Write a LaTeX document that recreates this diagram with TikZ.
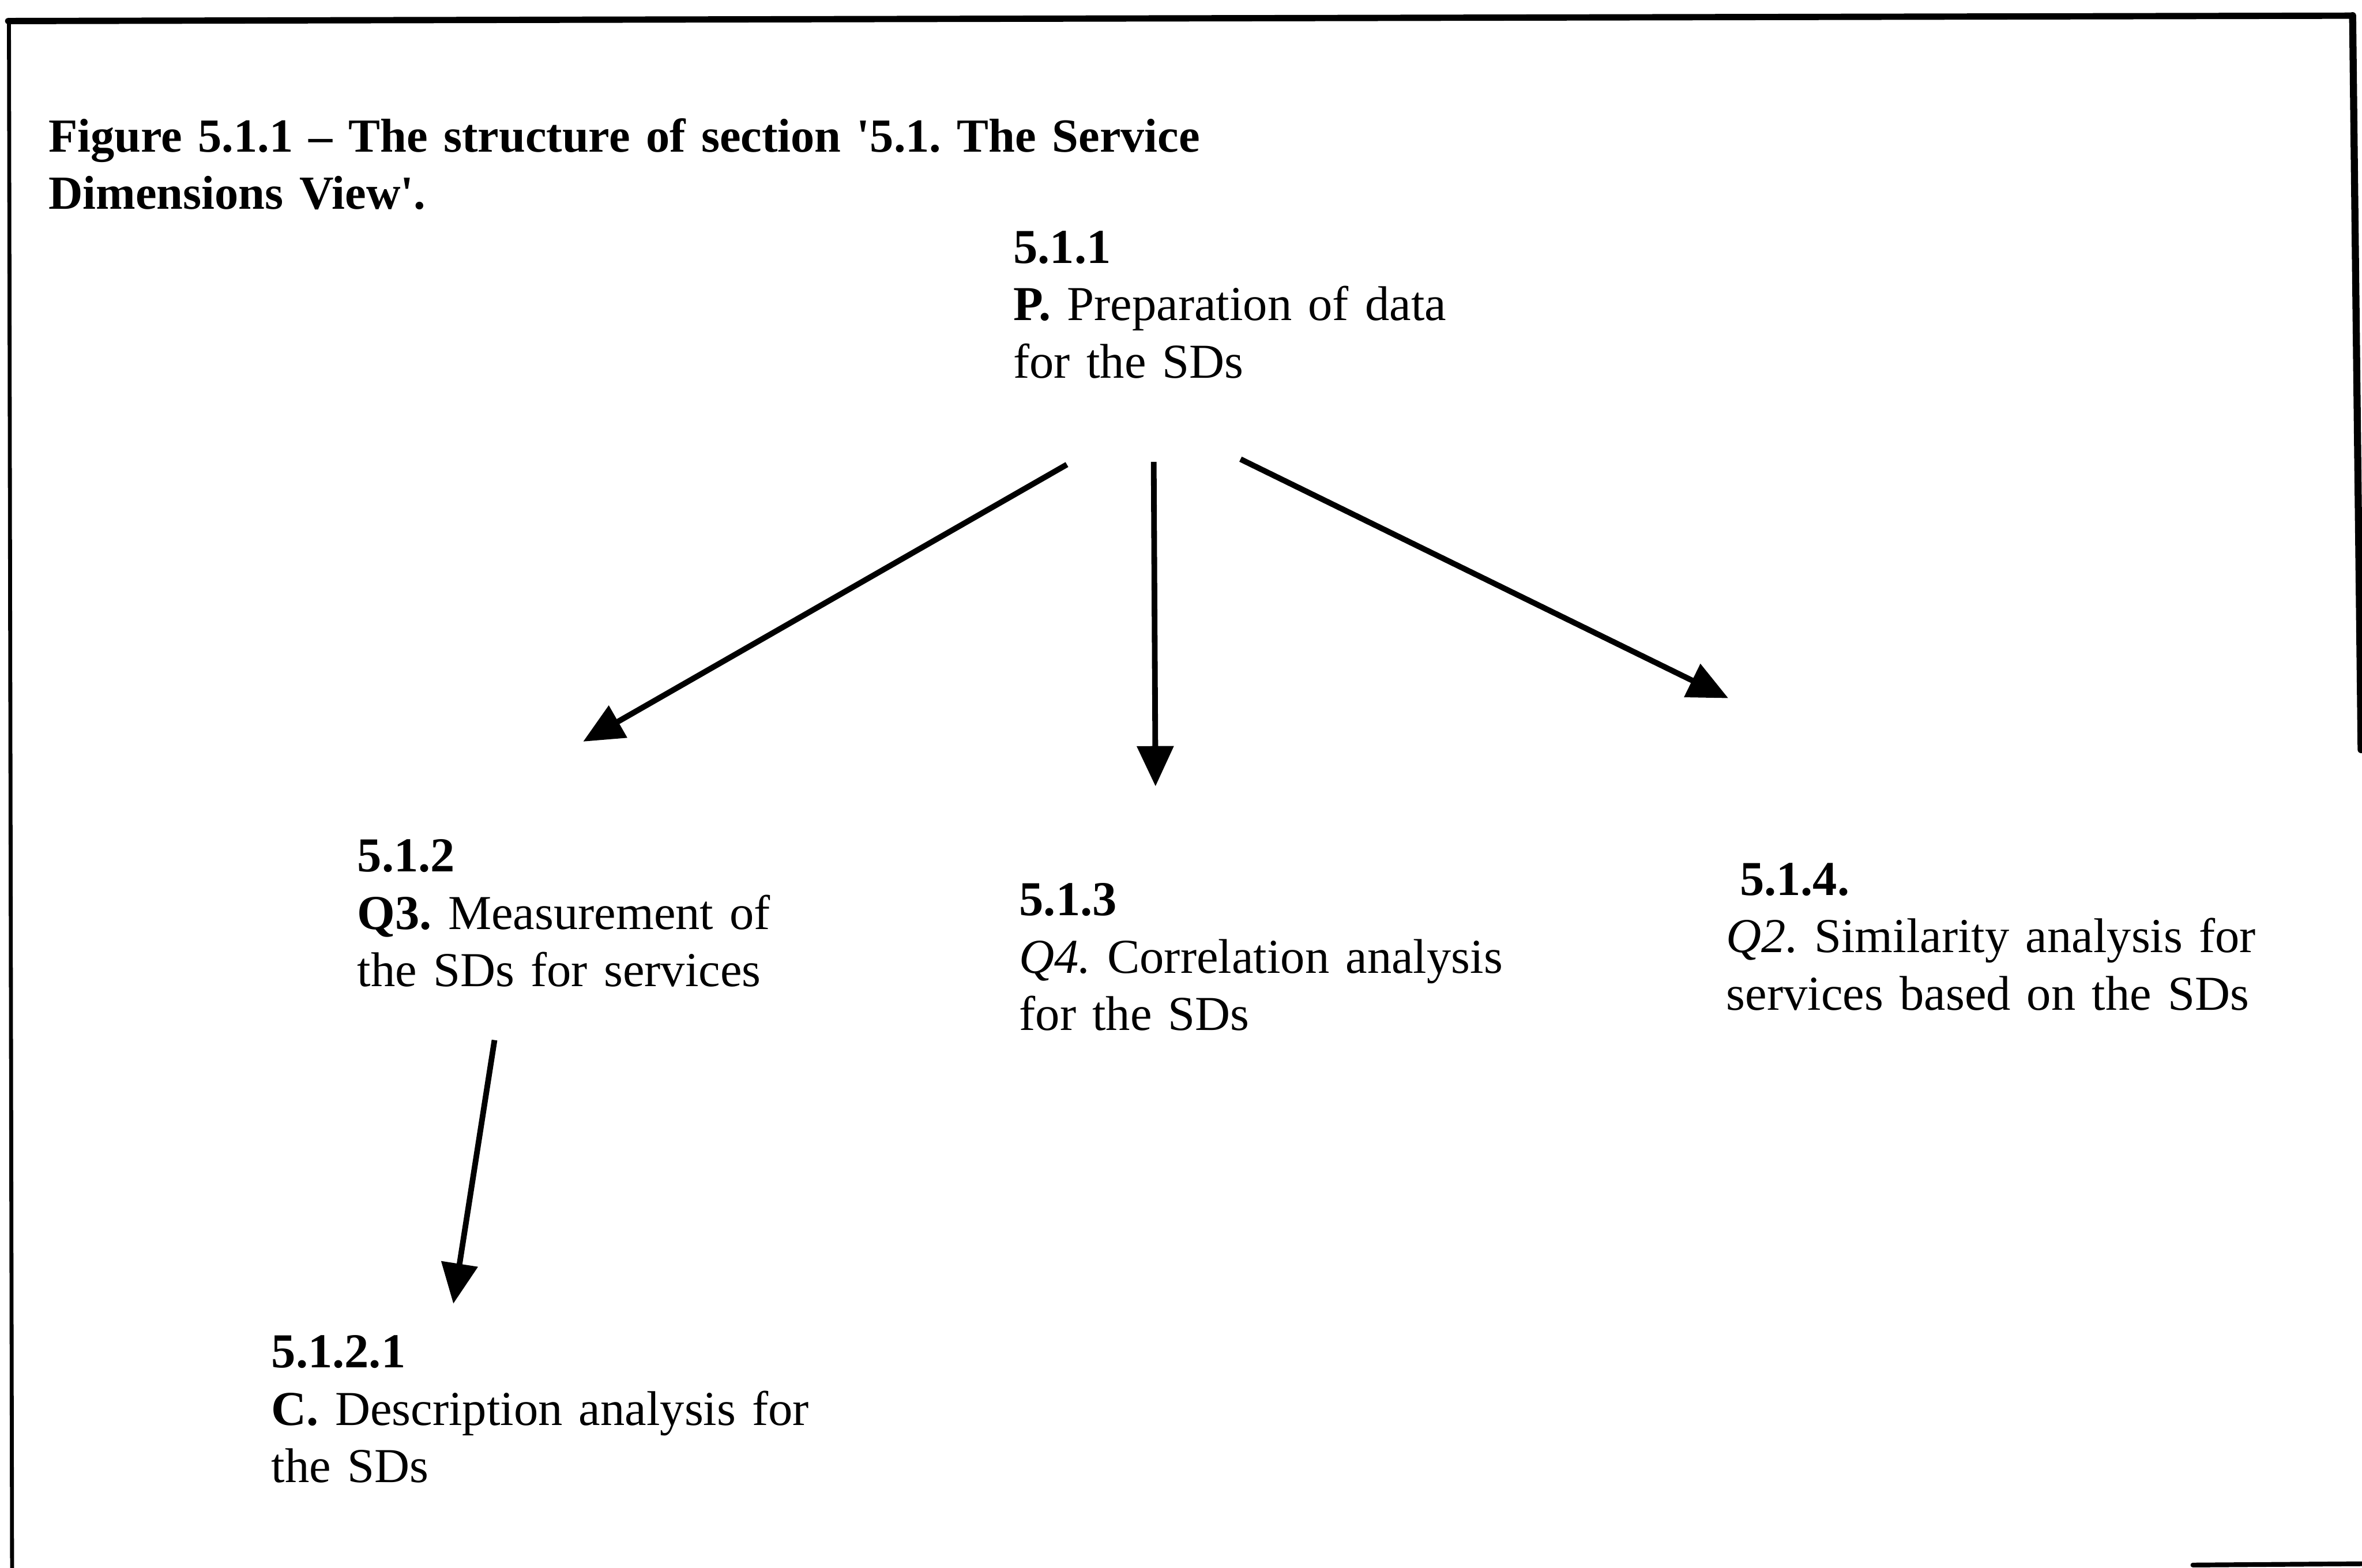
\documentclass[tikz,border=0pt]{standalone}
\usepackage{fontspec}
\setmainfont{Liberation Serif}
\usetikzlibrary{arrows.meta}
\begin{document}
\frenchspacing
\begin{tikzpicture}[x=1cm,y=1cm,
  lbl/.style={anchor=base west, inner sep=0pt, text width=14cm, align=left,
              font=\fontsize{31}{36.5}\selectfont\frenchspacing},
  arr/.style={line width=3.6pt, -{Triangle[length=0.9cm,width=0.8cm]}},
  edge/.style={line width=4pt, line cap=round}]
\useasboundingbox (0,0) rectangle (52.78,-35.03);
\fill[white] (0,0) rectangle (52.78,-35.03);
% frame (partly cut off, as in the scan)
\draw[edge] (0.18,-0.47) -- (52.57,-0.35);
\draw[edge, line width=2.5pt] (0.20,-0.45) -- (0.27,-35.1);
\draw[edge, line width=4.5pt] (52.57,-0.35) -- (52.76,-16.75);
\draw[edge, line width=3pt] (49.0,-34.97) -- (52.9,-34.94);
% caption
\node[lbl, text width=30cm, font=\fontsize{30.2}{36.5}\selectfont\frenchspacing] (title) at (1.08,-3.39)
  {\textbf{Figure 5.1.1 -- The structure of section \textquotesingle 5.1. The Service\\
   Dimensions View\textquotesingle.}};
% nodes
\node[lbl] (n511) at (22.64,-5.88)
  {\textbf{5.1.1}\\ \textbf{P.} Preparation of data\\ for the SDs};
\node[lbl] (n512) at (7.98,-19.48)
  {\textbf{5.1.2}\\ \textbf{Q3.} Measurement of\\ the SDs for services};
\node[lbl] (n5121) at (6.06,-30.56)
  {\textbf{5.1.2.1}\\ \textbf{C.} Description analysis for\\ the SDs};
\node[lbl] (n513) at (22.77,-20.46)
  {\textbf{5.1.3}\\ \textit{Q4.} Correlation analysis\\ for the SDs};
\node[lbl] (n514) at (38.57,-20.00)
  {\hspace*{0.3cm}\textbf{5.1.4.}\\ \textit{Q2.} Similarity analysis for\\ services based on the SDs};
% connector end points
\coordinate (s1) at (23.84,-10.38);
\coordinate (t1) at (13.03,-16.57);
\coordinate (s2) at (25.78,-10.32);
\coordinate (t2) at (25.82,-17.57);
\coordinate (s3) at (27.72,-10.26);
\coordinate (t3) at (38.62,-15.60);
\coordinate (s4) at (11.05,-23.24);
\coordinate (t4) at (10.13,-29.13);
\draw[arr] (s1) -- (t1);
\draw[arr] (s2) -- (t2);
\draw[arr] (s3) -- (t3);
\draw[arr] (s4) -- (t4);
\end{tikzpicture}
\end{document}
